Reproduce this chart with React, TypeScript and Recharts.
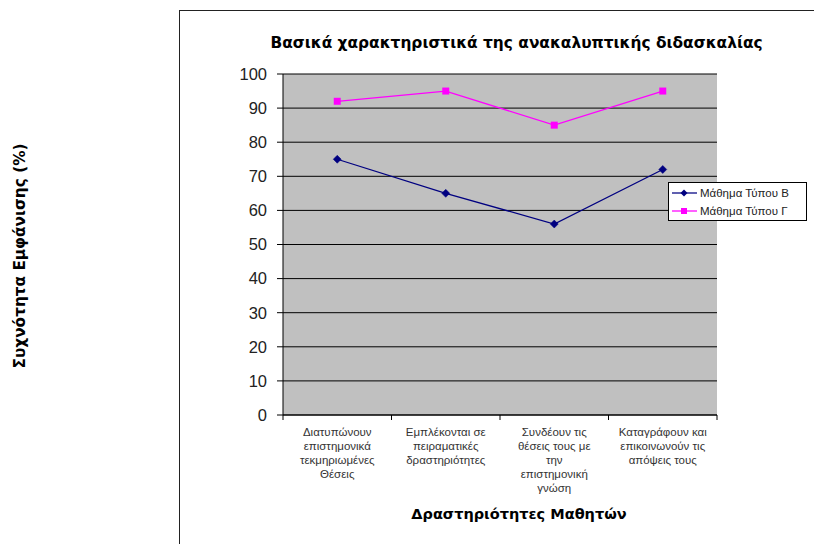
import React from 'react';
import { LineChart, Line, XAxis, YAxis, CartesianGrid, Legend } from 'recharts';

const categories = [
  'Διατυπώνουν\nεπιστημονικά\nτεκμηριωμένες\nΘέσεις',
  'Εμπλέκονται σε\nπειραματικές\nδραστηριότητες',
  'Συνδέουν τις\nθέσεις τους με\nτην\nεπιστημονική\nγνώση',
  'Καταγράφουν και\nεπικοινωνούν τις\nαπόψεις τους',
];
const seriesBName = 'Μάθημα Τύπου Β';
const seriesGName = 'Μάθημα Τύπου Γ';
const seriesB = [75, 65, 56, 72];
const seriesG = [92, 95, 85, 95];
const yTicks = [0, 10, 20, 30, 40, 50, 60, 70, 80, 90, 100];
const chartTitle = 'Βασικά χαρακτηριστικά της ανακαλυπτικής διδασκαλίας';
const xTitle = 'Δραστηριότητες Μαθητών';
const yTitle = 'Συχνότητα Εμφάνισης (%)';

const data = categories.map((c, i) => ({ name: c, b: seriesB[i], g: seriesG[i] }));

const NAVY = '#000080';
const MAGENTA = '#FF00FF';
const titleFont = '"DejaVu Sans", sans-serif';
const bodyFont = '"Liberation Sans", Arial, sans-serif';

const Diamond = (props: any) => {
  const { cx, cy } = props;
  if (cx == null || cy == null) return null;
  return (
    <polygon
      points={`${cx},${cy - 4} ${cx + 4},${cy} ${cx},${cy + 4} ${cx - 4},${cy}`}
      fill={NAVY}
      stroke={NAVY}
      strokeWidth={0.5}
    />
  );
};

const Square = (props: any) => {
  const { cx, cy } = props;
  if (cx == null || cy == null) return null;
  return <rect x={cx - 3.5} y={cy - 3.5} width={7} height={7} fill={MAGENTA} />;
};

const XTick = (props: any) => {
  const { x, y, payload, index, visibleTicksCount } = props;
  const half = payload && payload.offset ? payload.offset : 54.25;
  const lines: string[] = String(payload.value).split('\n');
  const isLast = index === (visibleTicksCount ?? 4) - 1;
  return (
    <g>
      <line x1={x - half} x2={x - half} y1={y - 5} y2={y} stroke="#000" strokeWidth={1} />
      {isLast && <line x1={x + half} x2={x + half} y1={y - 5} y2={y} stroke="#000" strokeWidth={1} />}
      <text x={x} y={y} textAnchor="middle" fontFamily={bodyFont} fontSize={11.5} fill="#333">
        {lines.map((l, i) => (
          <tspan key={i} x={x} dy={i === 0 ? 16 : 14}>
            {l}
          </tspan>
        ))}
      </text>
    </g>
  );
};

const LegendContent = (props: any) => {
  const items = [
    { name: seriesBName, color: NAVY, marker: 'diamond' },
    { name: seriesGName, color: MAGENTA, marker: 'square' },
  ];
  return (
    <div
      style={{
        width: 139,
        height: 39,
        boxSizing: 'border-box',
        border: '1px solid #000',
        background: '#fff',
        position: 'relative',
      }}
    >
      <svg width={137} height={37} style={{ position: 'absolute', left: 0, top: 0 }}>
        {items.map((it, i) => {
          const cy = 10 + i * 18;
          return (
            <g key={i}>
              <line x1={3} x2={28} y1={cy} y2={cy} stroke={it.color} strokeWidth={1.25} />
              {it.marker === 'diamond' ? (
                <polygon points={`15,${cy - 3.5} 18.5,${cy} 15,${cy + 3.5} 11.5,${cy}`} fill={it.color} />
              ) : (
                <rect x={12} y={cy - 3} width={6} height={6} fill={it.color} />
              )}
              <text x={31} y={cy + 4} fontFamily={bodyFont} fontSize={11.5} fill="#222">
                {it.name}
              </text>
            </g>
          );
        })}
      </svg>
    </div>
  );
};

export default function App() {
  return (
    <div style={{ position: 'absolute', left: 0, top: 0, width: 814, height: 544, background: '#fff', overflow: 'hidden' }}>
      <div
        style={{
          position: 'absolute',
          left: 179,
          top: 10,
          width: 700,
          height: 600,
          borderTop: '1px solid #222',
          borderLeft: '1px solid #222',
        }}
      />
      <div
        style={{
          position: 'absolute',
          left: 0,
          width: 1033,
          top: 34,
          textAlign: 'center',
          fontFamily: titleFont,
          fontWeight: 'bold',
          fontSize: 15.4,
          color: '#000',
          whiteSpace: 'nowrap',
        }}
      >
        {chartTitle}
      </div>
      <div
        style={{
          position: 'absolute',
          left: 0,
          width: 1038,
          top: 506,
          textAlign: 'center',
          fontFamily: titleFont,
          fontWeight: 'bold',
          fontSize: 14.5,
          color: '#000',
          whiteSpace: 'nowrap',
        }}
      >
        {xTitle}
      </div>
      <div
        style={{
          position: 'absolute',
          left: 20,
          top: 256,
          transform: 'translate(-50%, -50%) rotate(-90deg)',
          fontFamily: titleFont,
          fontWeight: 'bold',
          fontSize: 15.3,
          color: '#000',
          whiteSpace: 'nowrap',
        }}
      >
        {yTitle}
      </div>
      <div style={{ position: 'absolute', left: 0, top: 0 }}>
        <LineChart width={814} height={544} data={data} margin={{ top: 74, right: 97, bottom: 29, left: 0 }}>
          <CartesianGrid vertical={false} fill="#C0C0C0" fillOpacity={1} stroke="#000" strokeWidth={1} />
          <XAxis
            dataKey="name"
            scale="band"
            interval={0}
            height={100}
            axisLine={{ stroke: '#000' }}
            tickLine={{ stroke: 'none' }}
            tickSize={5}
            tickMargin={0}
            tick={<XTick />}
          />
          <YAxis
            width={283}
            domain={[0, 100]}
            ticks={yTicks}
            interval={0}
            axisLine={{ stroke: '#000' }}
            tickLine={{ stroke: '#000' }}
            tickSize={6}
            tickMargin={10}
            tick={{ fontFamily: bodyFont, fontSize: 16.5, fill: '#222' }}
          />
          <Legend
            layout="vertical"
            align="center"
            verticalAlign="middle"
            content={<LegendContent />}
            wrapperStyle={{ position: 'absolute', left: 668, top: 182, width: 139, height: 39 }}
          />
          <Line
            type="linear"
            dataKey="b"
            name={seriesBName}
            stroke={NAVY}
            strokeWidth={1.25}
            dot={<Diamond />}
            activeDot={false}
            isAnimationActive={false}
          />
          <Line
            type="linear"
            dataKey="g"
            name={seriesGName}
            stroke={MAGENTA}
            strokeWidth={1.25}
            dot={<Square />}
            activeDot={false}
            isAnimationActive={false}
          />
        </LineChart>
      </div>
    </div>
  );
}
